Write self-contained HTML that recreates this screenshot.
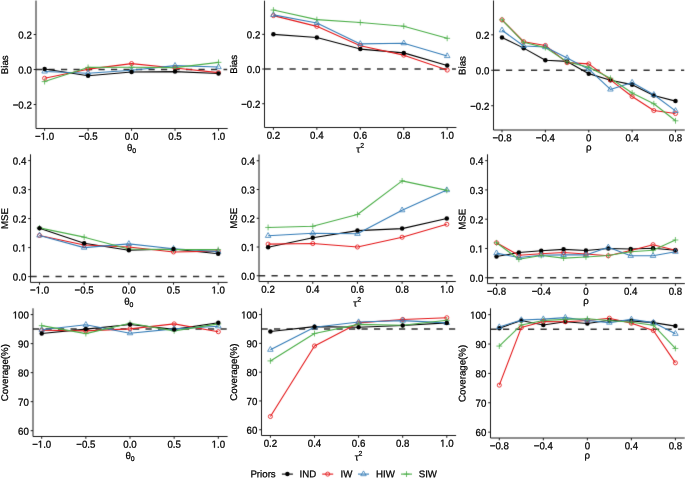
<!DOCTYPE html>
<html><head><meta charset="utf-8"><title>Simulation results</title>
<style>html,body{margin:0;padding:0;background:#fff;}svg{display:block;will-change:transform;}text{font-family:"Liberation Sans",sans-serif;text-rendering:geometricPrecision;stroke:#000;stroke-width:0.25px;}path.g1{stroke:#000;}</style>
</head><body>
<svg width="685" height="479" viewBox="0 0 685 479" font-family='"Liberation Sans", sans-serif' fill="#000000">
<defs><filter id="bl" x="0" y="0" width="685" height="479" filterUnits="userSpaceOnUse" color-interpolation-filters="sRGB"><feConvolveMatrix order="3" kernelMatrix="0.0064 0.0672 0.0064 0.0672 0.7056 0.0672 0.0064 0.0672 0.0064" edgeMode="duplicate"/></filter></defs>
<g filter="url(#bl)">
<rect width="685" height="479" fill="#fff"/>
<line x1="36" y1="69.52" x2="227.2" y2="69.52" stroke="#333333" stroke-width="1.5" stroke-dasharray="6.2 6.3"/>
<polyline points="44.6,69 88.08,75.82 131.55,71.97 175.03,71.62 218.5,73.55" fill="none" stroke="#000000" stroke-width="1.1" stroke-linejoin="round"/>
<polyline points="44.6,78.27 88.08,69.17 131.55,63.58 175.03,67.95 218.5,72.67" fill="none" stroke="#E41A1C" stroke-width="1.1" stroke-linejoin="round"/>
<polyline points="44.6,71.45 88.08,73.2 131.55,70.22 175.03,65.67 218.5,67.07" fill="none" stroke="#377EB8" stroke-width="1.1" stroke-linejoin="round"/>
<polyline points="44.6,81.6 88.08,67.42 131.55,67.25 175.03,67.6 218.5,62.35" fill="none" stroke="#4DAF4A" stroke-width="1.1" stroke-linejoin="round"/>
<circle cx="44.6" cy="78.27" r="2.05" fill="none" stroke="#E41A1C" stroke-width="0.85"/>
<circle cx="88.08" cy="69.17" r="2.05" fill="none" stroke="#E41A1C" stroke-width="0.85"/>
<circle cx="131.55" cy="63.58" r="2.05" fill="none" stroke="#E41A1C" stroke-width="0.85"/>
<circle cx="175.03" cy="67.95" r="2.05" fill="none" stroke="#E41A1C" stroke-width="0.85"/>
<circle cx="218.5" cy="72.67" r="2.05" fill="none" stroke="#E41A1C" stroke-width="0.85"/>
<polygon points="44.6,68.26 41.84,73.04 47.36,73.04" fill="none" stroke="#377EB8" stroke-width="0.8"/>
<polygon points="88.08,70.01 85.31,74.79 90.84,74.79" fill="none" stroke="#377EB8" stroke-width="0.8"/>
<polygon points="131.55,67.04 128.79,71.82 134.31,71.82" fill="none" stroke="#377EB8" stroke-width="0.8"/>
<polygon points="175.03,62.49 172.26,67.27 177.79,67.27" fill="none" stroke="#377EB8" stroke-width="0.8"/>
<polygon points="218.5,63.89 215.74,68.67 221.26,68.67" fill="none" stroke="#377EB8" stroke-width="0.8"/>
<path d="M41.7 81.6H47.5M44.6 78.7V84.5" stroke="#4DAF4A" stroke-width="0.8" fill="none"/>
<path d="M85.17 67.42H90.98M88.08 64.52V70.32" stroke="#4DAF4A" stroke-width="0.8" fill="none"/>
<path d="M128.65 67.25H134.45M131.55 64.35V70.15" stroke="#4DAF4A" stroke-width="0.8" fill="none"/>
<path d="M172.12 67.6H177.93M175.03 64.7V70.5" stroke="#4DAF4A" stroke-width="0.8" fill="none"/>
<path d="M215.6 62.35H221.4M218.5 59.45V65.25" stroke="#4DAF4A" stroke-width="0.8" fill="none"/>
<circle cx="44.6" cy="69" r="2.25" fill="#000000"/>
<circle cx="88.08" cy="75.82" r="2.25" fill="#000000"/>
<circle cx="131.55" cy="71.97" r="2.25" fill="#000000"/>
<circle cx="175.03" cy="71.62" r="2.25" fill="#000000"/>
<circle cx="218.5" cy="73.55" r="2.25" fill="#000000"/>
<path d="M36 1.1V128.5H227.2" fill="none" stroke="#1a1a1a" stroke-width="1.0" stroke-linecap="square"/>
<path d="M44.6 128.5v2.3 M88.08 128.5v2.3 M131.55 128.5v2.3 M175.03 128.5v2.3 M218.5 128.5v2.3 M36 104.53h-2.3 M36 69.52h-2.3 M36 34.52h-2.3" stroke="#1a1a1a" stroke-width="1.0"/>
<line x1="264.5" y1="69.03" x2="455.9" y2="69.03" stroke="#333333" stroke-width="1.5" stroke-dasharray="6.2 6.3"/>
<polyline points="273.4,34.34 316.85,37.46 360.3,49.08 403.75,52.9 447.2,65.56" fill="none" stroke="#000000" stroke-width="1.1" stroke-linejoin="round"/>
<polyline points="273.4,15.6 316.85,26.36 360.3,45.79 403.75,55.16 447.2,70.08" fill="none" stroke="#E41A1C" stroke-width="1.1" stroke-linejoin="round"/>
<polyline points="273.4,14.91 316.85,23.06 360.3,43.88 403.75,43.18 447.2,56.02" fill="none" stroke="#377EB8" stroke-width="1.1" stroke-linejoin="round"/>
<polyline points="273.4,10.05 316.85,19.59 360.3,22.54 403.75,26.18 447.2,38.33" fill="none" stroke="#4DAF4A" stroke-width="1.1" stroke-linejoin="round"/>
<circle cx="273.4" cy="15.6" r="2.05" fill="none" stroke="#E41A1C" stroke-width="0.85"/>
<circle cx="316.85" cy="26.36" r="2.05" fill="none" stroke="#E41A1C" stroke-width="0.85"/>
<circle cx="360.3" cy="45.79" r="2.05" fill="none" stroke="#E41A1C" stroke-width="0.85"/>
<circle cx="403.75" cy="55.16" r="2.05" fill="none" stroke="#E41A1C" stroke-width="0.85"/>
<circle cx="447.2" cy="70.08" r="2.05" fill="none" stroke="#E41A1C" stroke-width="0.85"/>
<polygon points="273.4,11.72 270.64,16.5 276.16,16.5" fill="none" stroke="#377EB8" stroke-width="0.8"/>
<polygon points="316.85,19.87 314.09,24.65 319.61,24.65" fill="none" stroke="#377EB8" stroke-width="0.8"/>
<polygon points="360.3,40.69 357.54,45.47 363.06,45.47" fill="none" stroke="#377EB8" stroke-width="0.8"/>
<polygon points="403.75,40 400.99,44.78 406.51,44.78" fill="none" stroke="#377EB8" stroke-width="0.8"/>
<polygon points="447.2,52.83 444.44,57.62 449.96,57.62" fill="none" stroke="#377EB8" stroke-width="0.8"/>
<path d="M270.5 10.05H276.3M273.4 7.15V12.95" stroke="#4DAF4A" stroke-width="0.8" fill="none"/>
<path d="M313.95 19.59H319.75M316.85 16.69V22.49" stroke="#4DAF4A" stroke-width="0.8" fill="none"/>
<path d="M357.4 22.54H363.2M360.3 19.64V25.44" stroke="#4DAF4A" stroke-width="0.8" fill="none"/>
<path d="M400.85 26.18H406.65M403.75 23.28V29.08" stroke="#4DAF4A" stroke-width="0.8" fill="none"/>
<path d="M444.3 38.33H450.1M447.2 35.43V41.23" stroke="#4DAF4A" stroke-width="0.8" fill="none"/>
<circle cx="273.4" cy="34.34" r="2.25" fill="#000000"/>
<circle cx="316.85" cy="37.46" r="2.25" fill="#000000"/>
<circle cx="360.3" cy="49.08" r="2.25" fill="#000000"/>
<circle cx="403.75" cy="52.9" r="2.25" fill="#000000"/>
<circle cx="447.2" cy="65.56" r="2.25" fill="#000000"/>
<path d="M264.5 1.2V127.5H455.9" fill="none" stroke="#1a1a1a" stroke-width="1.0" stroke-linecap="square"/>
<path d="M273.4 127.5v2.3 M316.85 127.5v2.3 M360.3 127.5v2.3 M403.75 127.5v2.3 M447.2 127.5v2.3 M264.5 103.73h-2.3 M264.5 69.03h-2.3 M264.5 34.34h-2.3" stroke="#1a1a1a" stroke-width="1.0"/>
<line x1="493.5" y1="70.28" x2="684.2" y2="70.28" stroke="#333333" stroke-width="1.5" stroke-dasharray="6.2 6.3"/>
<polyline points="502,37.5 523.69,48.13 545.38,60.18 567.06,61.42 588.75,73.65 610.44,80.21 632.12,84.64 653.81,95.45 675.5,101.12" fill="none" stroke="#000000" stroke-width="1.1" stroke-linejoin="round"/>
<polyline points="502,19.78 523.69,41.76 545.38,45.48 567.06,62.66 588.75,63.91 610.44,79.85 632.12,96.51 653.81,110.51 675.5,113.52" fill="none" stroke="#E41A1C" stroke-width="1.1" stroke-linejoin="round"/>
<polyline points="502,30.24 523.69,46.01 545.38,47.07 567.06,58.06 588.75,69.22 610.44,89.42 632.12,82.51 653.81,94.74 675.5,110.86" fill="none" stroke="#377EB8" stroke-width="1.1" stroke-linejoin="round"/>
<polyline points="502,19.78 523.69,42.29 545.38,47.6 567.06,61.78 588.75,67.27 610.44,78.26 632.12,92.97 653.81,103.77 675.5,120.79" fill="none" stroke="#4DAF4A" stroke-width="1.1" stroke-linejoin="round"/>
<circle cx="502" cy="37.5" r="2.25" fill="#000000"/>
<circle cx="523.69" cy="48.13" r="2.25" fill="#000000"/>
<circle cx="545.38" cy="60.18" r="2.25" fill="#000000"/>
<circle cx="567.06" cy="61.42" r="2.25" fill="#000000"/>
<circle cx="588.75" cy="73.65" r="2.25" fill="#000000"/>
<circle cx="610.44" cy="80.21" r="2.25" fill="#000000"/>
<circle cx="632.12" cy="84.64" r="2.25" fill="#000000"/>
<circle cx="653.81" cy="95.45" r="2.25" fill="#000000"/>
<circle cx="675.5" cy="101.12" r="2.25" fill="#000000"/>
<circle cx="502" cy="19.78" r="2.05" fill="none" stroke="#E41A1C" stroke-width="0.85"/>
<circle cx="523.69" cy="41.76" r="2.05" fill="none" stroke="#E41A1C" stroke-width="0.85"/>
<circle cx="545.38" cy="45.48" r="2.05" fill="none" stroke="#E41A1C" stroke-width="0.85"/>
<circle cx="567.06" cy="62.66" r="2.05" fill="none" stroke="#E41A1C" stroke-width="0.85"/>
<circle cx="588.75" cy="63.91" r="2.05" fill="none" stroke="#E41A1C" stroke-width="0.85"/>
<circle cx="610.44" cy="79.85" r="2.05" fill="none" stroke="#E41A1C" stroke-width="0.85"/>
<circle cx="632.12" cy="96.51" r="2.05" fill="none" stroke="#E41A1C" stroke-width="0.85"/>
<circle cx="653.81" cy="110.51" r="2.05" fill="none" stroke="#E41A1C" stroke-width="0.85"/>
<circle cx="675.5" cy="113.52" r="2.05" fill="none" stroke="#E41A1C" stroke-width="0.85"/>
<polygon points="502,27.05 499.24,31.83 504.76,31.83" fill="none" stroke="#377EB8" stroke-width="0.8"/>
<polygon points="523.69,42.82 520.93,47.6 526.45,47.6" fill="none" stroke="#377EB8" stroke-width="0.8"/>
<polygon points="545.38,43.88 542.61,48.67 548.14,48.67" fill="none" stroke="#377EB8" stroke-width="0.8"/>
<polygon points="567.06,54.87 564.3,59.65 569.82,59.65" fill="none" stroke="#377EB8" stroke-width="0.8"/>
<polygon points="588.75,66.03 585.99,70.82 591.51,70.82" fill="none" stroke="#377EB8" stroke-width="0.8"/>
<polygon points="610.44,86.23 607.68,91.02 613.2,91.02" fill="none" stroke="#377EB8" stroke-width="0.8"/>
<polygon points="632.12,79.32 629.36,84.11 634.89,84.11" fill="none" stroke="#377EB8" stroke-width="0.8"/>
<polygon points="653.81,91.55 651.05,96.33 656.57,96.33" fill="none" stroke="#377EB8" stroke-width="0.8"/>
<polygon points="675.5,107.67 672.74,112.46 678.26,112.46" fill="none" stroke="#377EB8" stroke-width="0.8"/>
<path d="M499.1 19.78H504.9M502 16.88V22.68" stroke="#4DAF4A" stroke-width="0.8" fill="none"/>
<path d="M520.79 42.29H526.59M523.69 39.39V45.19" stroke="#4DAF4A" stroke-width="0.8" fill="none"/>
<path d="M542.48 47.6H548.27M545.38 44.7V50.5" stroke="#4DAF4A" stroke-width="0.8" fill="none"/>
<path d="M564.16 61.78H569.96M567.06 58.88V64.68" stroke="#4DAF4A" stroke-width="0.8" fill="none"/>
<path d="M585.85 67.27H591.65M588.75 64.37V70.17" stroke="#4DAF4A" stroke-width="0.8" fill="none"/>
<path d="M607.54 78.26H613.34M610.44 75.36V81.16" stroke="#4DAF4A" stroke-width="0.8" fill="none"/>
<path d="M629.23 92.97H635.02M632.12 90.07V95.87" stroke="#4DAF4A" stroke-width="0.8" fill="none"/>
<path d="M650.91 103.77H656.71M653.81 100.87V106.67" stroke="#4DAF4A" stroke-width="0.8" fill="none"/>
<path d="M672.6 120.79H678.4M675.5 117.89V123.69" stroke="#4DAF4A" stroke-width="0.8" fill="none"/>
<path d="M493.5 1V130H684.2" fill="none" stroke="#1a1a1a" stroke-width="1.0" stroke-linecap="square"/>
<path d="M502 130v2.3 M545.38 130v2.3 M588.75 130v2.3 M632.12 130v2.3 M675.5 130v2.3 M493.5 105.72h-2.3 M493.5 70.28h-2.3 M493.5 34.84h-2.3" stroke="#1a1a1a" stroke-width="1.0"/>
<line x1="30.5" y1="276.6" x2="227.1" y2="276.6" stroke="#333333" stroke-width="1.5" stroke-dasharray="6.2 6.3"/>
<polyline points="39.5,228.17 84.17,243.25 128.85,250.21 173.52,249.05 218.2,253.69" fill="none" stroke="#000000" stroke-width="1.1" stroke-linejoin="round"/>
<polyline points="39.5,235.42 84.17,244.99 128.85,247.02 173.52,251.95 218.2,251.08" fill="none" stroke="#E41A1C" stroke-width="1.1" stroke-linejoin="round"/>
<polyline points="39.5,235.42 84.17,247.6 128.85,243.83 173.52,248.76 218.2,251.66" fill="none" stroke="#377EB8" stroke-width="1.1" stroke-linejoin="round"/>
<polyline points="39.5,227.88 84.17,237.16 128.85,249.05 173.52,249.63 218.2,249.63" fill="none" stroke="#4DAF4A" stroke-width="1.1" stroke-linejoin="round"/>
<circle cx="39.5" cy="235.42" r="2.05" fill="none" stroke="#E41A1C" stroke-width="0.85"/>
<circle cx="84.17" cy="244.99" r="2.05" fill="none" stroke="#E41A1C" stroke-width="0.85"/>
<circle cx="128.85" cy="247.02" r="2.05" fill="none" stroke="#E41A1C" stroke-width="0.85"/>
<circle cx="173.52" cy="251.95" r="2.05" fill="none" stroke="#E41A1C" stroke-width="0.85"/>
<circle cx="218.2" cy="251.08" r="2.05" fill="none" stroke="#E41A1C" stroke-width="0.85"/>
<polygon points="39.5,232.23 36.74,237.01 42.26,237.01" fill="none" stroke="#377EB8" stroke-width="0.8"/>
<polygon points="84.17,244.41 81.41,249.19 86.94,249.19" fill="none" stroke="#377EB8" stroke-width="0.8"/>
<polygon points="128.85,240.64 126.09,245.42 131.61,245.42" fill="none" stroke="#377EB8" stroke-width="0.8"/>
<polygon points="173.52,245.57 170.76,250.35 176.29,250.35" fill="none" stroke="#377EB8" stroke-width="0.8"/>
<polygon points="218.2,248.47 215.44,253.25 220.96,253.25" fill="none" stroke="#377EB8" stroke-width="0.8"/>
<path d="M36.6 227.88H42.4M39.5 224.98V230.78" stroke="#4DAF4A" stroke-width="0.8" fill="none"/>
<path d="M81.27 237.16H87.08M84.17 234.26V240.06" stroke="#4DAF4A" stroke-width="0.8" fill="none"/>
<path d="M125.95 249.05H131.75M128.85 246.15V251.95" stroke="#4DAF4A" stroke-width="0.8" fill="none"/>
<path d="M170.62 249.63H176.42M173.52 246.73V252.53" stroke="#4DAF4A" stroke-width="0.8" fill="none"/>
<path d="M215.3 249.63H221.1M218.2 246.73V252.53" stroke="#4DAF4A" stroke-width="0.8" fill="none"/>
<circle cx="39.5" cy="228.17" r="2.25" fill="#000000"/>
<circle cx="84.17" cy="243.25" r="2.25" fill="#000000"/>
<circle cx="128.85" cy="250.21" r="2.25" fill="#000000"/>
<circle cx="173.52" cy="249.05" r="2.25" fill="#000000"/>
<circle cx="218.2" cy="253.69" r="2.25" fill="#000000"/>
<path d="M30.5 154.8V282.4H227.1" fill="none" stroke="#1a1a1a" stroke-width="1.0" stroke-linecap="square"/>
<path d="M39.5 282.4v2.3 M84.17 282.4v2.3 M128.85 282.4v2.3 M173.52 282.4v2.3 M218.2 282.4v2.3 M30.5 276.6h-2.3 M30.5 247.6h-2.3 M30.5 218.6h-2.3 M30.5 189.6h-2.3 M30.5 160.6h-2.3" stroke="#1a1a1a" stroke-width="1.0"/>
<line x1="259" y1="275.75" x2="455.3" y2="275.75" stroke="#333333" stroke-width="1.5" stroke-dasharray="6.2 6.3"/>
<polyline points="268.1,247.29 312.78,237.8 357.45,230.61 402.12,228.6 446.8,218.54" fill="none" stroke="#000000" stroke-width="1.1" stroke-linejoin="round"/>
<polyline points="268.1,244.12 312.78,243.55 357.45,247 402.12,237.22 446.8,224.29" fill="none" stroke="#E41A1C" stroke-width="1.1" stroke-linejoin="round"/>
<polyline points="268.1,235.79 312.78,233.2 357.45,233.78 402.12,210.2 446.8,190.07" fill="none" stroke="#377EB8" stroke-width="1.1" stroke-linejoin="round"/>
<polyline points="268.1,227.45 312.78,226.3 357.45,214.51 402.12,180.88 446.8,190.36" fill="none" stroke="#4DAF4A" stroke-width="1.1" stroke-linejoin="round"/>
<circle cx="268.1" cy="244.12" r="2.05" fill="none" stroke="#E41A1C" stroke-width="0.85"/>
<circle cx="312.78" cy="243.55" r="2.05" fill="none" stroke="#E41A1C" stroke-width="0.85"/>
<circle cx="357.45" cy="247" r="2.05" fill="none" stroke="#E41A1C" stroke-width="0.85"/>
<circle cx="402.12" cy="237.22" r="2.05" fill="none" stroke="#E41A1C" stroke-width="0.85"/>
<circle cx="446.8" cy="224.29" r="2.05" fill="none" stroke="#E41A1C" stroke-width="0.85"/>
<polygon points="268.1,232.6 265.34,237.38 270.86,237.38" fill="none" stroke="#377EB8" stroke-width="0.8"/>
<polygon points="312.78,230.01 310.01,234.79 315.54,234.79" fill="none" stroke="#377EB8" stroke-width="0.8"/>
<polygon points="357.45,230.59 354.69,235.37 360.21,235.37" fill="none" stroke="#377EB8" stroke-width="0.8"/>
<polygon points="402.12,207.01 399.36,211.79 404.89,211.79" fill="none" stroke="#377EB8" stroke-width="0.8"/>
<polygon points="446.8,186.89 444.04,191.67 449.56,191.67" fill="none" stroke="#377EB8" stroke-width="0.8"/>
<path d="M265.2 227.45H271M268.1 224.55V230.35" stroke="#4DAF4A" stroke-width="0.8" fill="none"/>
<path d="M309.88 226.3H315.68M312.78 223.4V229.2" stroke="#4DAF4A" stroke-width="0.8" fill="none"/>
<path d="M354.55 214.51H360.35M357.45 211.61V217.41" stroke="#4DAF4A" stroke-width="0.8" fill="none"/>
<path d="M399.23 180.88H405.02M402.12 177.97V183.78" stroke="#4DAF4A" stroke-width="0.8" fill="none"/>
<path d="M443.9 190.36H449.7M446.8 187.46V193.26" stroke="#4DAF4A" stroke-width="0.8" fill="none"/>
<circle cx="268.1" cy="247.29" r="2.25" fill="#000000"/>
<circle cx="312.78" cy="237.8" r="2.25" fill="#000000"/>
<circle cx="357.45" cy="230.61" r="2.25" fill="#000000"/>
<circle cx="402.12" cy="228.6" r="2.25" fill="#000000"/>
<circle cx="446.8" cy="218.54" r="2.25" fill="#000000"/>
<path d="M259 155V281.5H455.3" fill="none" stroke="#1a1a1a" stroke-width="1.0" stroke-linecap="square"/>
<path d="M268.1 281.5v2.3 M312.78 281.5v2.3 M357.45 281.5v2.3 M402.12 281.5v2.3 M446.8 281.5v2.3 M259 275.75h-2.3 M259 247h-2.3 M259 218.25h-2.3 M259 189.5h-2.3 M259 160.75h-2.3" stroke="#1a1a1a" stroke-width="1.0"/>
<line x1="487.5" y1="277.75" x2="684.3" y2="277.75" stroke="#333333" stroke-width="1.5" stroke-dasharray="6.2 6.3"/>
<polyline points="496.5,256.52 518.86,252.57 541.23,250.81 563.59,249.35 585.95,250.52 608.31,248.47 630.67,249.06 653.04,248.18 675.4,250.23" fill="none" stroke="#000000" stroke-width="1.1" stroke-linejoin="round"/>
<polyline points="496.5,242.76 518.86,255.21 541.23,253.74 563.59,252.57 585.95,254.03 608.31,255.79 630.67,250.52 653.04,244.67 675.4,250.23" fill="none" stroke="#E41A1C" stroke-width="1.1" stroke-linejoin="round"/>
<polyline points="496.5,253.16 518.86,257.55 541.23,255.21 563.59,254.91 585.95,254.91 608.31,247.3 630.67,255.79 653.04,255.79 675.4,251.69" fill="none" stroke="#377EB8" stroke-width="1.1" stroke-linejoin="round"/>
<polyline points="496.5,242.76 518.86,259.3 541.23,255.5 563.59,258.13 585.95,256.96 608.31,255.5 630.67,251.69 653.04,250.23 675.4,239.98" fill="none" stroke="#4DAF4A" stroke-width="1.1" stroke-linejoin="round"/>
<circle cx="496.5" cy="242.76" r="2.05" fill="none" stroke="#E41A1C" stroke-width="0.85"/>
<circle cx="518.86" cy="255.21" r="2.05" fill="none" stroke="#E41A1C" stroke-width="0.85"/>
<circle cx="541.23" cy="253.74" r="2.05" fill="none" stroke="#E41A1C" stroke-width="0.85"/>
<circle cx="563.59" cy="252.57" r="2.05" fill="none" stroke="#E41A1C" stroke-width="0.85"/>
<circle cx="585.95" cy="254.03" r="2.05" fill="none" stroke="#E41A1C" stroke-width="0.85"/>
<circle cx="608.31" cy="255.79" r="2.05" fill="none" stroke="#E41A1C" stroke-width="0.85"/>
<circle cx="630.67" cy="250.52" r="2.05" fill="none" stroke="#E41A1C" stroke-width="0.85"/>
<circle cx="653.04" cy="244.67" r="2.05" fill="none" stroke="#E41A1C" stroke-width="0.85"/>
<circle cx="675.4" cy="250.23" r="2.05" fill="none" stroke="#E41A1C" stroke-width="0.85"/>
<circle cx="496.5" cy="256.52" r="2.25" fill="#000000"/>
<circle cx="518.86" cy="252.57" r="2.25" fill="#000000"/>
<circle cx="541.23" cy="250.81" r="2.25" fill="#000000"/>
<circle cx="563.59" cy="249.35" r="2.25" fill="#000000"/>
<circle cx="585.95" cy="250.52" r="2.25" fill="#000000"/>
<circle cx="608.31" cy="248.47" r="2.25" fill="#000000"/>
<circle cx="630.67" cy="249.06" r="2.25" fill="#000000"/>
<circle cx="653.04" cy="248.18" r="2.25" fill="#000000"/>
<circle cx="675.4" cy="250.23" r="2.25" fill="#000000"/>
<polygon points="496.5,249.97 493.74,254.75 499.26,254.75" fill="none" stroke="#377EB8" stroke-width="0.8"/>
<polygon points="518.86,254.36 516.1,259.14 521.62,259.14" fill="none" stroke="#377EB8" stroke-width="0.8"/>
<polygon points="541.23,252.02 538.46,256.8 543.99,256.8" fill="none" stroke="#377EB8" stroke-width="0.8"/>
<polygon points="563.59,251.72 560.83,256.51 566.35,256.51" fill="none" stroke="#377EB8" stroke-width="0.8"/>
<polygon points="585.95,251.72 583.19,256.51 588.71,256.51" fill="none" stroke="#377EB8" stroke-width="0.8"/>
<polygon points="608.31,244.11 605.55,248.9 611.07,248.9" fill="none" stroke="#377EB8" stroke-width="0.8"/>
<polygon points="630.67,252.6 627.91,257.39 633.44,257.39" fill="none" stroke="#377EB8" stroke-width="0.8"/>
<polygon points="653.04,252.6 650.28,257.39 655.8,257.39" fill="none" stroke="#377EB8" stroke-width="0.8"/>
<polygon points="675.4,248.5 672.64,253.29 678.16,253.29" fill="none" stroke="#377EB8" stroke-width="0.8"/>
<path d="M493.6 242.76H499.4M496.5 239.86V245.66" stroke="#4DAF4A" stroke-width="0.8" fill="none"/>
<path d="M515.96 259.3H521.76M518.86 256.4V262.2" stroke="#4DAF4A" stroke-width="0.8" fill="none"/>
<path d="M538.33 255.5H544.12M541.23 252.6V258.4" stroke="#4DAF4A" stroke-width="0.8" fill="none"/>
<path d="M560.69 258.13H566.49M563.59 255.23V261.03" stroke="#4DAF4A" stroke-width="0.8" fill="none"/>
<path d="M583.05 256.96H588.85M585.95 254.06V259.86" stroke="#4DAF4A" stroke-width="0.8" fill="none"/>
<path d="M605.41 255.5H611.21M608.31 252.6V258.4" stroke="#4DAF4A" stroke-width="0.8" fill="none"/>
<path d="M627.77 251.69H633.57M630.67 248.79V254.59" stroke="#4DAF4A" stroke-width="0.8" fill="none"/>
<path d="M650.14 250.23H655.94M653.04 247.33V253.13" stroke="#4DAF4A" stroke-width="0.8" fill="none"/>
<path d="M672.5 239.98H678.3M675.4 237.08V242.88" stroke="#4DAF4A" stroke-width="0.8" fill="none"/>
<path d="M487.5 154.8V283.6H684.3" fill="none" stroke="#1a1a1a" stroke-width="1.0" stroke-linecap="square"/>
<path d="M496.5 283.6v2.3 M541.23 283.6v2.3 M585.95 283.6v2.3 M630.67 283.6v2.3 M675.4 283.6v2.3 M487.5 277.75h-2.3 M487.5 248.47h-2.3 M487.5 219.2h-2.3 M487.5 189.93h-2.3 M487.5 160.65h-2.3" stroke="#1a1a1a" stroke-width="1.0"/>
<line x1="33" y1="329.12" x2="227.1" y2="329.12" stroke="#333333" stroke-width="1.5" stroke-dasharray="6.2 6.3"/>
<polyline points="41.7,333.47 85.85,329.12 130,324.47 174.15,329.41 218.3,322.73" fill="none" stroke="#000000" stroke-width="1.1" stroke-linejoin="round"/>
<polyline points="41.7,330.28 85.85,330.86 130,328.83 174.15,323.89 218.3,331.73" fill="none" stroke="#E41A1C" stroke-width="1.1" stroke-linejoin="round"/>
<polyline points="41.7,329.7 85.85,324.76 130,333.18 174.15,328.83 218.3,326.21" fill="none" stroke="#377EB8" stroke-width="1.1" stroke-linejoin="round"/>
<polyline points="41.7,325.63 85.85,333.61 130,323.31 174.15,330.86 218.3,323.89" fill="none" stroke="#4DAF4A" stroke-width="1.1" stroke-linejoin="round"/>
<circle cx="41.7" cy="330.28" r="2.05" fill="none" stroke="#E41A1C" stroke-width="0.85"/>
<circle cx="85.85" cy="330.86" r="2.05" fill="none" stroke="#E41A1C" stroke-width="0.85"/>
<circle cx="130" cy="328.83" r="2.05" fill="none" stroke="#E41A1C" stroke-width="0.85"/>
<circle cx="174.15" cy="323.89" r="2.05" fill="none" stroke="#E41A1C" stroke-width="0.85"/>
<circle cx="218.3" cy="331.73" r="2.05" fill="none" stroke="#E41A1C" stroke-width="0.85"/>
<polygon points="41.7,326.51 38.94,331.29 44.46,331.29" fill="none" stroke="#377EB8" stroke-width="0.8"/>
<polygon points="85.85,321.57 83.09,326.36 88.61,326.36" fill="none" stroke="#377EB8" stroke-width="0.8"/>
<polygon points="130,329.99 127.24,334.77 132.76,334.77" fill="none" stroke="#377EB8" stroke-width="0.8"/>
<polygon points="174.15,325.64 171.39,330.42 176.91,330.42" fill="none" stroke="#377EB8" stroke-width="0.8"/>
<polygon points="218.3,323.03 215.54,327.81 221.06,327.81" fill="none" stroke="#377EB8" stroke-width="0.8"/>
<path d="M38.8 325.63H44.6M41.7 322.73V328.53" stroke="#4DAF4A" stroke-width="0.8" fill="none"/>
<path d="M82.95 333.61H88.75M85.85 330.71V336.51" stroke="#4DAF4A" stroke-width="0.8" fill="none"/>
<path d="M127.1 323.31H132.9M130 320.41V326.21" stroke="#4DAF4A" stroke-width="0.8" fill="none"/>
<path d="M171.25 330.86H177.05M174.15 327.96V333.76" stroke="#4DAF4A" stroke-width="0.8" fill="none"/>
<path d="M215.4 323.89H221.2M218.3 320.99V326.79" stroke="#4DAF4A" stroke-width="0.8" fill="none"/>
<circle cx="41.7" cy="333.47" r="2.25" fill="#000000"/>
<circle cx="85.85" cy="329.12" r="2.25" fill="#000000"/>
<circle cx="130" cy="324.47" r="2.25" fill="#000000"/>
<circle cx="174.15" cy="329.41" r="2.25" fill="#000000"/>
<circle cx="218.3" cy="322.73" r="2.25" fill="#000000"/>
<path d="M33 308.8V436.5H227.1" fill="none" stroke="#1a1a1a" stroke-width="1.0" stroke-linecap="square"/>
<path d="M41.7 436.5v2.3 M85.85 436.5v2.3 M130 436.5v2.3 M174.15 436.5v2.3 M218.3 436.5v2.3 M33 430.7h-2.3 M33 401.67h-2.3 M33 372.65h-2.3 M33 343.63h-2.3 M33 314.6h-2.3" stroke="#1a1a1a" stroke-width="1.0"/>
<line x1="261.5" y1="328.96" x2="455.6" y2="328.96" stroke="#333333" stroke-width="1.5" stroke-dasharray="6.2 6.3"/>
<polyline points="270.4,331.55 314.5,326.65 358.6,327.23 402.7,325.5 446.8,322.91" fill="none" stroke="#000000" stroke-width="1.1" stroke-linejoin="round"/>
<polyline points="270.4,416.5 314.5,345.95 358.6,322.91 402.7,319.45 446.8,317.73" fill="none" stroke="#E41A1C" stroke-width="1.1" stroke-linejoin="round"/>
<polyline points="270.4,349.69 314.5,327.23 358.6,322.05 402.7,320.61 446.8,322.91" fill="none" stroke="#377EB8" stroke-width="1.1" stroke-linejoin="round"/>
<polyline points="270.4,360.92 314.5,333.56 358.6,324.35 402.7,325.21 446.8,320.32" fill="none" stroke="#4DAF4A" stroke-width="1.1" stroke-linejoin="round"/>
<circle cx="270.4" cy="416.5" r="2.05" fill="none" stroke="#E41A1C" stroke-width="0.85"/>
<circle cx="314.5" cy="345.95" r="2.05" fill="none" stroke="#E41A1C" stroke-width="0.85"/>
<circle cx="358.6" cy="322.91" r="2.05" fill="none" stroke="#E41A1C" stroke-width="0.85"/>
<circle cx="402.7" cy="319.45" r="2.05" fill="none" stroke="#E41A1C" stroke-width="0.85"/>
<circle cx="446.8" cy="317.73" r="2.05" fill="none" stroke="#E41A1C" stroke-width="0.85"/>
<polygon points="270.4,346.5 267.64,351.28 273.16,351.28" fill="none" stroke="#377EB8" stroke-width="0.8"/>
<polygon points="314.5,324.04 311.74,328.82 317.26,328.82" fill="none" stroke="#377EB8" stroke-width="0.8"/>
<polygon points="358.6,318.86 355.84,323.64 361.36,323.64" fill="none" stroke="#377EB8" stroke-width="0.8"/>
<polygon points="402.7,317.42 399.94,322.2 405.46,322.2" fill="none" stroke="#377EB8" stroke-width="0.8"/>
<polygon points="446.8,319.72 444.04,324.5 449.56,324.5" fill="none" stroke="#377EB8" stroke-width="0.8"/>
<path d="M267.5 360.92H273.3M270.4 358.02V363.82" stroke="#4DAF4A" stroke-width="0.8" fill="none"/>
<path d="M311.6 333.56H317.4M314.5 330.66V336.46" stroke="#4DAF4A" stroke-width="0.8" fill="none"/>
<path d="M355.7 324.35H361.5M358.6 321.45V327.25" stroke="#4DAF4A" stroke-width="0.8" fill="none"/>
<path d="M399.8 325.21H405.6M402.7 322.31V328.11" stroke="#4DAF4A" stroke-width="0.8" fill="none"/>
<path d="M443.9 320.32H449.7M446.8 317.42V323.22" stroke="#4DAF4A" stroke-width="0.8" fill="none"/>
<circle cx="270.4" cy="331.55" r="2.25" fill="#000000"/>
<circle cx="314.5" cy="326.65" r="2.25" fill="#000000"/>
<circle cx="358.6" cy="327.23" r="2.25" fill="#000000"/>
<circle cx="402.7" cy="325.5" r="2.25" fill="#000000"/>
<circle cx="446.8" cy="322.91" r="2.25" fill="#000000"/>
<path d="M261.5 308.8V435.5H455.6" fill="none" stroke="#1a1a1a" stroke-width="1.0" stroke-linecap="square"/>
<path d="M270.4 435.5v2.3 M314.5 435.5v2.3 M358.6 435.5v2.3 M402.7 435.5v2.3 M446.8 435.5v2.3 M261.5 429.74h-2.3 M261.5 400.95h-2.3 M261.5 372.15h-2.3 M261.5 343.35h-2.3 M261.5 314.56h-2.3" stroke="#1a1a1a" stroke-width="1.0"/>
<line x1="490.5" y1="329.35" x2="684.2" y2="329.35" stroke="#333333" stroke-width="1.5" stroke-dasharray="6.2 6.3"/>
<polyline points="499.3,328.18 521.31,320.55 543.33,324.95 565.34,321.72 587.35,323.48 609.36,320.25 631.38,320.84 653.39,322.6 675.4,326.12" fill="none" stroke="#000000" stroke-width="1.1" stroke-linejoin="round"/>
<polyline points="499.3,385.15 521.31,327.59 543.33,321.43 565.34,321.72 587.35,320.55 609.36,318.2 631.38,323.19 653.39,330.53 675.4,362.83" fill="none" stroke="#E41A1C" stroke-width="1.1" stroke-linejoin="round"/>
<polyline points="499.3,327.01 521.31,319.96 543.33,319.08 565.34,317.61 587.35,320.55 609.36,322.6 631.38,319.37 653.39,322.6 675.4,333.76" fill="none" stroke="#377EB8" stroke-width="1.1" stroke-linejoin="round"/>
<polyline points="499.3,346.09 521.31,324.95 543.33,320.55 565.34,319.37 587.35,318.78 609.36,320.55 631.38,322.31 653.39,325.24 675.4,348.44" fill="none" stroke="#4DAF4A" stroke-width="1.1" stroke-linejoin="round"/>
<circle cx="499.3" cy="328.18" r="2.25" fill="#000000"/>
<circle cx="521.31" cy="320.55" r="2.25" fill="#000000"/>
<circle cx="543.33" cy="324.95" r="2.25" fill="#000000"/>
<circle cx="565.34" cy="321.72" r="2.25" fill="#000000"/>
<circle cx="587.35" cy="323.48" r="2.25" fill="#000000"/>
<circle cx="609.36" cy="320.25" r="2.25" fill="#000000"/>
<circle cx="631.38" cy="320.84" r="2.25" fill="#000000"/>
<circle cx="653.39" cy="322.6" r="2.25" fill="#000000"/>
<circle cx="675.4" cy="326.12" r="2.25" fill="#000000"/>
<circle cx="499.3" cy="385.15" r="2.05" fill="none" stroke="#E41A1C" stroke-width="0.85"/>
<circle cx="521.31" cy="327.59" r="2.05" fill="none" stroke="#E41A1C" stroke-width="0.85"/>
<circle cx="543.33" cy="321.43" r="2.05" fill="none" stroke="#E41A1C" stroke-width="0.85"/>
<circle cx="565.34" cy="321.72" r="2.05" fill="none" stroke="#E41A1C" stroke-width="0.85"/>
<circle cx="587.35" cy="320.55" r="2.05" fill="none" stroke="#E41A1C" stroke-width="0.85"/>
<circle cx="609.36" cy="318.2" r="2.05" fill="none" stroke="#E41A1C" stroke-width="0.85"/>
<circle cx="631.38" cy="323.19" r="2.05" fill="none" stroke="#E41A1C" stroke-width="0.85"/>
<circle cx="653.39" cy="330.53" r="2.05" fill="none" stroke="#E41A1C" stroke-width="0.85"/>
<circle cx="675.4" cy="362.83" r="2.05" fill="none" stroke="#E41A1C" stroke-width="0.85"/>
<polygon points="499.3,323.82 496.54,328.6 502.06,328.6" fill="none" stroke="#377EB8" stroke-width="0.8"/>
<polygon points="521.31,316.77 518.55,321.55 524.07,321.55" fill="none" stroke="#377EB8" stroke-width="0.8"/>
<polygon points="543.33,315.89 540.56,320.67 546.09,320.67" fill="none" stroke="#377EB8" stroke-width="0.8"/>
<polygon points="565.34,314.42 562.58,319.2 568.1,319.2" fill="none" stroke="#377EB8" stroke-width="0.8"/>
<polygon points="587.35,317.36 584.59,322.14 590.11,322.14" fill="none" stroke="#377EB8" stroke-width="0.8"/>
<polygon points="609.36,319.41 606.6,324.2 612.12,324.2" fill="none" stroke="#377EB8" stroke-width="0.8"/>
<polygon points="631.38,316.18 628.61,320.97 634.14,320.97" fill="none" stroke="#377EB8" stroke-width="0.8"/>
<polygon points="653.39,319.41 650.63,324.2 656.15,324.2" fill="none" stroke="#377EB8" stroke-width="0.8"/>
<polygon points="675.4,330.57 672.64,335.35 678.16,335.35" fill="none" stroke="#377EB8" stroke-width="0.8"/>
<path d="M496.4 346.09H502.2M499.3 343.19V348.99" stroke="#4DAF4A" stroke-width="0.8" fill="none"/>
<path d="M518.41 324.95H524.21M521.31 322.05V327.85" stroke="#4DAF4A" stroke-width="0.8" fill="none"/>
<path d="M540.43 320.55H546.23M543.33 317.65V323.45" stroke="#4DAF4A" stroke-width="0.8" fill="none"/>
<path d="M562.44 319.37H568.24M565.34 316.47V322.27" stroke="#4DAF4A" stroke-width="0.8" fill="none"/>
<path d="M584.45 318.78H590.25M587.35 315.88V321.68" stroke="#4DAF4A" stroke-width="0.8" fill="none"/>
<path d="M606.46 320.55H612.26M609.36 317.65V323.45" stroke="#4DAF4A" stroke-width="0.8" fill="none"/>
<path d="M628.48 322.31H634.27M631.38 319.41V325.21" stroke="#4DAF4A" stroke-width="0.8" fill="none"/>
<path d="M650.49 325.24H656.29M653.39 322.34V328.14" stroke="#4DAF4A" stroke-width="0.8" fill="none"/>
<path d="M672.5 348.44H678.3M675.4 345.54V351.34" stroke="#4DAF4A" stroke-width="0.8" fill="none"/>
<path d="M490.5 308.8V438H684.2" fill="none" stroke="#1a1a1a" stroke-width="1.0" stroke-linecap="square"/>
<path d="M499.3 438v2.3 M543.33 438v2.3 M587.35 438v2.3 M631.38 438v2.3 M675.4 438v2.3 M490.5 432.13h-2.3 M490.5 402.76h-2.3 M490.5 373.4h-2.3 M490.5 344.04h-2.3 M490.5 314.67h-2.3" stroke="#1a1a1a" stroke-width="1.0"/>
<line x1="281.9" y1="474.1" x2="292.9" y2="474.1" stroke="#000000" stroke-width="1.1"/>
<circle cx="287.4" cy="474.1" r="2.25" fill="#000000"/>
<line x1="322.2" y1="474.1" x2="333.2" y2="474.1" stroke="#E41A1C" stroke-width="1.1"/>
<circle cx="327.7" cy="474.1" r="2.05" fill="none" stroke="#E41A1C" stroke-width="0.85"/>
<line x1="358.0" y1="474.1" x2="369.0" y2="474.1" stroke="#377EB8" stroke-width="1.1"/>
<polygon points="363.5,470.91 360.74,475.69 366.26,475.69" fill="none" stroke="#377EB8" stroke-width="0.8"/>
<line x1="401.0" y1="474.1" x2="412.0" y2="474.1" stroke="#4DAF4A" stroke-width="1.1"/>
<path d="M403.6 474.1H409.4M406.5 471.2V477" stroke="#4DAF4A" stroke-width="0.8" fill="none"/>
</g>
<g>
<g transform="translate(35.03 139.7) rotate(0.05) scale(1 1.05)"><text x="0" y="0" font-size="9.7">−</text><path class="g1" d="M515 0L515 1237L197 1010L197 1180L530 1409L696 1409L696 0Z" transform="translate(5.66 0) scale(0.004736 -0.004736)" stroke-width="52.78"/><text x="11.06" y="0" font-size="9.7">.0</text></g>
<g transform="translate(78.5 139.7) rotate(0.05) scale(1 1.05)"><text x="0" y="0" font-size="9.7">−0.5</text></g>
<g transform="translate(124.81 139.7) rotate(0.05) scale(1 1.05)"><text x="0" y="0" font-size="9.7">0.0</text></g>
<g transform="translate(168.28 139.7) rotate(0.05) scale(1 1.05)"><text x="0" y="0" font-size="9.7">0.5</text></g>
<g transform="translate(211.76 139.7) rotate(0.05) scale(1 1.05)"><path class="g1" d="M515 0L515 1237L197 1010L197 1180L530 1409L696 1409L696 0Z" transform="translate(0 0) scale(0.004736 -0.004736)" stroke-width="52.78"/><text x="5.39" y="0" font-size="9.7">.0</text></g>
<g transform="translate(12.65 108.48) rotate(0.05) scale(1 1.05)"><text x="0" y="0" font-size="9.7">−0.2</text></g>
<g transform="translate(18.32 73.48) rotate(0.05) scale(1 1.05)"><text x="0" y="0" font-size="9.7">0.0</text></g>
<g transform="translate(18.32 38.48) rotate(0.05) scale(1 1.05)"><text x="0" y="0" font-size="9.7">0.2</text></g>
<text transform="translate(131.6 150.9) rotate(0.05)" font-size="9.7" text-anchor="middle">θ<tspan font-size="6.9" dy="2.2">0</tspan></text>
<text transform="translate(8 64.8) rotate(-89.95)" font-size="9.7" text-anchor="middle">Bias</text>
<g transform="translate(266.66 138.7) rotate(0.05) scale(1 1.05)"><text x="0" y="0" font-size="9.7">0.2</text></g>
<g transform="translate(310.11 138.7) rotate(0.05) scale(1 1.05)"><text x="0" y="0" font-size="9.7">0.4</text></g>
<g transform="translate(353.56 138.7) rotate(0.05) scale(1 1.05)"><text x="0" y="0" font-size="9.7">0.6</text></g>
<g transform="translate(397.01 138.7) rotate(0.05) scale(1 1.05)"><text x="0" y="0" font-size="9.7">0.8</text></g>
<g transform="translate(440.46 138.7) rotate(0.05) scale(1 1.05)"><path class="g1" d="M515 0L515 1237L197 1010L197 1180L530 1409L696 1409L696 0Z" transform="translate(0 0) scale(0.004736 -0.004736)" stroke-width="52.78"/><text x="5.39" y="0" font-size="9.7">.0</text></g>
<g transform="translate(241.15 107.69) rotate(0.05) scale(1 1.05)"><text x="0" y="0" font-size="9.7">−0.2</text></g>
<g transform="translate(246.82 72.99) rotate(0.05) scale(1 1.05)"><text x="0" y="0" font-size="9.7">0.0</text></g>
<g transform="translate(246.82 38.29) rotate(0.05) scale(1 1.05)"><text x="0" y="0" font-size="9.7">0.2</text></g>
<text transform="translate(360.2 152.4) rotate(0.05)" font-size="9.7" text-anchor="middle">τ<tspan font-size="6.9" dy="-4.6">2</tspan></text>
<text transform="translate(237 64.35) rotate(-89.95)" font-size="9.7" text-anchor="middle">Bias</text>
<g transform="translate(492.43 141.2) rotate(0.05) scale(1 1.05)"><text x="0" y="0" font-size="9.7">−0.8</text></g>
<g transform="translate(535.8 141.2) rotate(0.05) scale(1 1.05)"><text x="0" y="0" font-size="9.7">−0.4</text></g>
<g transform="translate(586.05 141.2) rotate(0.05) scale(1 1.05)"><text x="0" y="0" font-size="9.7">0</text></g>
<g transform="translate(625.38 141.2) rotate(0.05) scale(1 1.05)"><text x="0" y="0" font-size="9.7">0.4</text></g>
<g transform="translate(668.76 141.2) rotate(0.05) scale(1 1.05)"><text x="0" y="0" font-size="9.7">0.8</text></g>
<g transform="translate(470.15 109.68) rotate(0.05) scale(1 1.05)"><text x="0" y="0" font-size="9.7">−0.2</text></g>
<g transform="translate(475.82 74.24) rotate(0.05) scale(1 1.05)"><text x="0" y="0" font-size="9.7">0.0</text></g>
<g transform="translate(475.82 38.8) rotate(0.05) scale(1 1.05)"><text x="0" y="0" font-size="9.7">0.2</text></g>
<text transform="translate(588.85 150.5) rotate(0.05)" font-size="9.7" text-anchor="middle">ρ</text>
<text transform="translate(465.5 65.5) rotate(-89.95)" font-size="9.7" text-anchor="middle">Bias</text>
<g transform="translate(29.93 293.6) rotate(0.05) scale(1 1.05)"><text x="0" y="0" font-size="9.7">−</text><path class="g1" d="M515 0L515 1237L197 1010L197 1180L530 1409L696 1409L696 0Z" transform="translate(5.66 0) scale(0.004736 -0.004736)" stroke-width="52.78"/><text x="11.06" y="0" font-size="9.7">.0</text></g>
<g transform="translate(74.6 293.6) rotate(0.05) scale(1 1.05)"><text x="0" y="0" font-size="9.7">−0.5</text></g>
<g transform="translate(122.11 293.6) rotate(0.05) scale(1 1.05)"><text x="0" y="0" font-size="9.7">0.0</text></g>
<g transform="translate(166.78 293.6) rotate(0.05) scale(1 1.05)"><text x="0" y="0" font-size="9.7">0.5</text></g>
<g transform="translate(211.46 293.6) rotate(0.05) scale(1 1.05)"><path class="g1" d="M515 0L515 1237L197 1010L197 1180L530 1409L696 1409L696 0Z" transform="translate(0 0) scale(0.004736 -0.004736)" stroke-width="52.78"/><text x="5.39" y="0" font-size="9.7">.0</text></g>
<g transform="translate(12.82 280.55) rotate(0.05) scale(1 1.05)"><text x="0" y="0" font-size="9.7">0.0</text></g>
<g transform="translate(12.82 251.55) rotate(0.05) scale(1 1.05)"><text x="0" y="0" font-size="9.7">0.</text><path class="g1" d="M515 0L515 1237L197 1010L197 1180L530 1409L696 1409L696 0Z" transform="translate(8.09 0) scale(0.004736 -0.004736)" stroke-width="52.78"/></g>
<g transform="translate(12.82 222.55) rotate(0.05) scale(1 1.05)"><text x="0" y="0" font-size="9.7">0.2</text></g>
<g transform="translate(12.82 193.55) rotate(0.05) scale(1 1.05)"><text x="0" y="0" font-size="9.7">0.3</text></g>
<g transform="translate(12.82 164.55) rotate(0.05) scale(1 1.05)"><text x="0" y="0" font-size="9.7">0.4</text></g>
<text transform="translate(128.8 304.8) rotate(0.05)" font-size="9.7" text-anchor="middle">θ<tspan font-size="6.9" dy="2.2">0</tspan></text>
<text transform="translate(8 218.6) rotate(-89.95)" font-size="9.7" text-anchor="middle">MSE</text>
<g transform="translate(261.36 292.7) rotate(0.05) scale(1 1.05)"><text x="0" y="0" font-size="9.7">0.2</text></g>
<g transform="translate(306.03 292.7) rotate(0.05) scale(1 1.05)"><text x="0" y="0" font-size="9.7">0.4</text></g>
<g transform="translate(350.71 292.7) rotate(0.05) scale(1 1.05)"><text x="0" y="0" font-size="9.7">0.6</text></g>
<g transform="translate(395.38 292.7) rotate(0.05) scale(1 1.05)"><text x="0" y="0" font-size="9.7">0.8</text></g>
<g transform="translate(440.06 292.7) rotate(0.05) scale(1 1.05)"><path class="g1" d="M515 0L515 1237L197 1010L197 1180L530 1409L696 1409L696 0Z" transform="translate(0 0) scale(0.004736 -0.004736)" stroke-width="52.78"/><text x="5.39" y="0" font-size="9.7">.0</text></g>
<g transform="translate(241.32 279.7) rotate(0.05) scale(1 1.05)"><text x="0" y="0" font-size="9.7">0.0</text></g>
<g transform="translate(241.32 250.95) rotate(0.05) scale(1 1.05)"><text x="0" y="0" font-size="9.7">0.</text><path class="g1" d="M515 0L515 1237L197 1010L197 1180L530 1409L696 1409L696 0Z" transform="translate(8.09 0) scale(0.004736 -0.004736)" stroke-width="52.78"/></g>
<g transform="translate(241.32 222.2) rotate(0.05) scale(1 1.05)"><text x="0" y="0" font-size="9.7">0.2</text></g>
<g transform="translate(241.32 193.45) rotate(0.05) scale(1 1.05)"><text x="0" y="0" font-size="9.7">0.3</text></g>
<g transform="translate(241.32 164.7) rotate(0.05) scale(1 1.05)"><text x="0" y="0" font-size="9.7">0.4</text></g>
<text transform="translate(357.15 306.4) rotate(0.05)" font-size="9.7" text-anchor="middle">τ<tspan font-size="6.9" dy="-4.6">2</tspan></text>
<text transform="translate(237 218.25) rotate(-89.95)" font-size="9.7" text-anchor="middle">MSE</text>
<g transform="translate(486.93 294.8) rotate(0.05) scale(1 1.05)"><text x="0" y="0" font-size="9.7">−0.8</text></g>
<g transform="translate(531.65 294.8) rotate(0.05) scale(1 1.05)"><text x="0" y="0" font-size="9.7">−0.4</text></g>
<g transform="translate(583.25 294.8) rotate(0.05) scale(1 1.05)"><text x="0" y="0" font-size="9.7">0</text></g>
<g transform="translate(623.93 294.8) rotate(0.05) scale(1 1.05)"><text x="0" y="0" font-size="9.7">0.4</text></g>
<g transform="translate(668.66 294.8) rotate(0.05) scale(1 1.05)"><text x="0" y="0" font-size="9.7">0.8</text></g>
<g transform="translate(469.82 281.7) rotate(0.05) scale(1 1.05)"><text x="0" y="0" font-size="9.7">0.0</text></g>
<g transform="translate(469.82 252.43) rotate(0.05) scale(1 1.05)"><text x="0" y="0" font-size="9.7">0.</text><path class="g1" d="M515 0L515 1237L197 1010L197 1180L530 1409L696 1409L696 0Z" transform="translate(8.09 0) scale(0.004736 -0.004736)" stroke-width="52.78"/></g>
<g transform="translate(469.82 223.15) rotate(0.05) scale(1 1.05)"><text x="0" y="0" font-size="9.7">0.2</text></g>
<g transform="translate(469.82 193.88) rotate(0.05) scale(1 1.05)"><text x="0" y="0" font-size="9.7">0.3</text></g>
<g transform="translate(469.82 164.61) rotate(0.05) scale(1 1.05)"><text x="0" y="0" font-size="9.7">0.4</text></g>
<text transform="translate(585.9 304.1) rotate(0.05)" font-size="9.7" text-anchor="middle">ρ</text>
<text transform="translate(465.5 219.2) rotate(-89.95)" font-size="9.7" text-anchor="middle">MSE</text>
<g transform="translate(32.13 447.7) rotate(0.05) scale(1 1.05)"><text x="0" y="0" font-size="9.7">−</text><path class="g1" d="M515 0L515 1237L197 1010L197 1180L530 1409L696 1409L696 0Z" transform="translate(5.66 0) scale(0.004736 -0.004736)" stroke-width="52.78"/><text x="11.06" y="0" font-size="9.7">.0</text></g>
<g transform="translate(76.28 447.7) rotate(0.05) scale(1 1.05)"><text x="0" y="0" font-size="9.7">−0.5</text></g>
<g transform="translate(123.26 447.7) rotate(0.05) scale(1 1.05)"><text x="0" y="0" font-size="9.7">0.0</text></g>
<g transform="translate(167.41 447.7) rotate(0.05) scale(1 1.05)"><text x="0" y="0" font-size="9.7">0.5</text></g>
<g transform="translate(211.56 447.7) rotate(0.05) scale(1 1.05)"><path class="g1" d="M515 0L515 1237L197 1010L197 1180L530 1409L696 1409L696 0Z" transform="translate(0 0) scale(0.004736 -0.004736)" stroke-width="52.78"/><text x="5.39" y="0" font-size="9.7">.0</text></g>
<g transform="translate(18.01 434.65) rotate(0.05) scale(1 1.05)"><text x="0" y="0" font-size="9.7">60</text></g>
<g transform="translate(18.01 405.63) rotate(0.05) scale(1 1.05)"><text x="0" y="0" font-size="9.7">70</text></g>
<g transform="translate(18.01 376.6) rotate(0.05) scale(1 1.05)"><text x="0" y="0" font-size="9.7">80</text></g>
<g transform="translate(18.01 347.58) rotate(0.05) scale(1 1.05)"><text x="0" y="0" font-size="9.7">90</text></g>
<g transform="translate(12.62 318.56) rotate(0.05) scale(1 1.05)"><path class="g1" d="M515 0L515 1237L197 1010L197 1180L530 1409L696 1409L696 0Z" transform="translate(0 0) scale(0.004736 -0.004736)" stroke-width="52.78"/><text x="5.39" y="0" font-size="9.7">00</text></g>
<text transform="translate(130.05 458.9) rotate(0.05)" font-size="9.7" text-anchor="middle">θ<tspan font-size="6.9" dy="2.2">0</tspan></text>
<text transform="translate(8 372.65) rotate(-89.95)" font-size="9.7" text-anchor="middle">Coverage(%)</text>
<g transform="translate(263.66 446.7) rotate(0.05) scale(1 1.05)"><text x="0" y="0" font-size="9.7">0.2</text></g>
<g transform="translate(307.76 446.7) rotate(0.05) scale(1 1.05)"><text x="0" y="0" font-size="9.7">0.4</text></g>
<g transform="translate(351.86 446.7) rotate(0.05) scale(1 1.05)"><text x="0" y="0" font-size="9.7">0.6</text></g>
<g transform="translate(395.96 446.7) rotate(0.05) scale(1 1.05)"><text x="0" y="0" font-size="9.7">0.8</text></g>
<g transform="translate(440.06 446.7) rotate(0.05) scale(1 1.05)"><path class="g1" d="M515 0L515 1237L197 1010L197 1180L530 1409L696 1409L696 0Z" transform="translate(0 0) scale(0.004736 -0.004736)" stroke-width="52.78"/><text x="5.39" y="0" font-size="9.7">.0</text></g>
<g transform="translate(246.51 433.69) rotate(0.05) scale(1 1.05)"><text x="0" y="0" font-size="9.7">60</text></g>
<g transform="translate(246.51 404.9) rotate(0.05) scale(1 1.05)"><text x="0" y="0" font-size="9.7">70</text></g>
<g transform="translate(246.51 376.1) rotate(0.05) scale(1 1.05)"><text x="0" y="0" font-size="9.7">80</text></g>
<g transform="translate(246.51 347.31) rotate(0.05) scale(1 1.05)"><text x="0" y="0" font-size="9.7">90</text></g>
<g transform="translate(241.12 318.51) rotate(0.05) scale(1 1.05)"><path class="g1" d="M515 0L515 1237L197 1010L197 1180L530 1409L696 1409L696 0Z" transform="translate(0 0) scale(0.004736 -0.004736)" stroke-width="52.78"/><text x="5.39" y="0" font-size="9.7">00</text></g>
<text transform="translate(358.55 460.4) rotate(0.05)" font-size="9.7" text-anchor="middle">τ<tspan font-size="6.9" dy="-4.6">2</tspan></text>
<text transform="translate(237 372.15) rotate(-89.95)" font-size="9.7" text-anchor="middle">Coverage(%)</text>
<g transform="translate(489.73 449.2) rotate(0.05) scale(1 1.05)"><text x="0" y="0" font-size="9.7">−0.8</text></g>
<g transform="translate(533.75 449.2) rotate(0.05) scale(1 1.05)"><text x="0" y="0" font-size="9.7">−0.4</text></g>
<g transform="translate(584.65 449.2) rotate(0.05) scale(1 1.05)"><text x="0" y="0" font-size="9.7">0</text></g>
<g transform="translate(624.63 449.2) rotate(0.05) scale(1 1.05)"><text x="0" y="0" font-size="9.7">0.4</text></g>
<g transform="translate(668.66 449.2) rotate(0.05) scale(1 1.05)"><text x="0" y="0" font-size="9.7">0.8</text></g>
<g transform="translate(475.51 436.08) rotate(0.05) scale(1 1.05)"><text x="0" y="0" font-size="9.7">60</text></g>
<g transform="translate(475.51 406.72) rotate(0.05) scale(1 1.05)"><text x="0" y="0" font-size="9.7">70</text></g>
<g transform="translate(475.51 377.35) rotate(0.05) scale(1 1.05)"><text x="0" y="0" font-size="9.7">80</text></g>
<g transform="translate(475.51 347.99) rotate(0.05) scale(1 1.05)"><text x="0" y="0" font-size="9.7">90</text></g>
<g transform="translate(470.12 318.63) rotate(0.05) scale(1 1.05)"><path class="g1" d="M515 0L515 1237L197 1010L197 1180L530 1409L696 1409L696 0Z" transform="translate(0 0) scale(0.004736 -0.004736)" stroke-width="52.78"/><text x="5.39" y="0" font-size="9.7">00</text></g>
<text transform="translate(587.35 458.5) rotate(0.05)" font-size="9.7" text-anchor="middle">ρ</text>
<text transform="translate(465.5 373.4) rotate(-89.95)" font-size="9.7" text-anchor="middle">Coverage(%)</text>
<text class="lg" transform="translate(250.4 477.3) rotate(0.05)" font-size="9.7">Priors</text>
<text class="lg" transform="translate(299.6 477.3) rotate(0.05)" font-size="9.7">IND</text>
<text class="lg" transform="translate(340.6 477.3) rotate(0.05)" font-size="9.7">IW</text>
<text class="lg" transform="translate(376.1 477.3) rotate(0.05)" font-size="9.7">HIW</text>
<text class="lg" transform="translate(418.7 477.3) rotate(0.05)" font-size="9.7">SIW</text>
</g>
</svg>
</body></html>
